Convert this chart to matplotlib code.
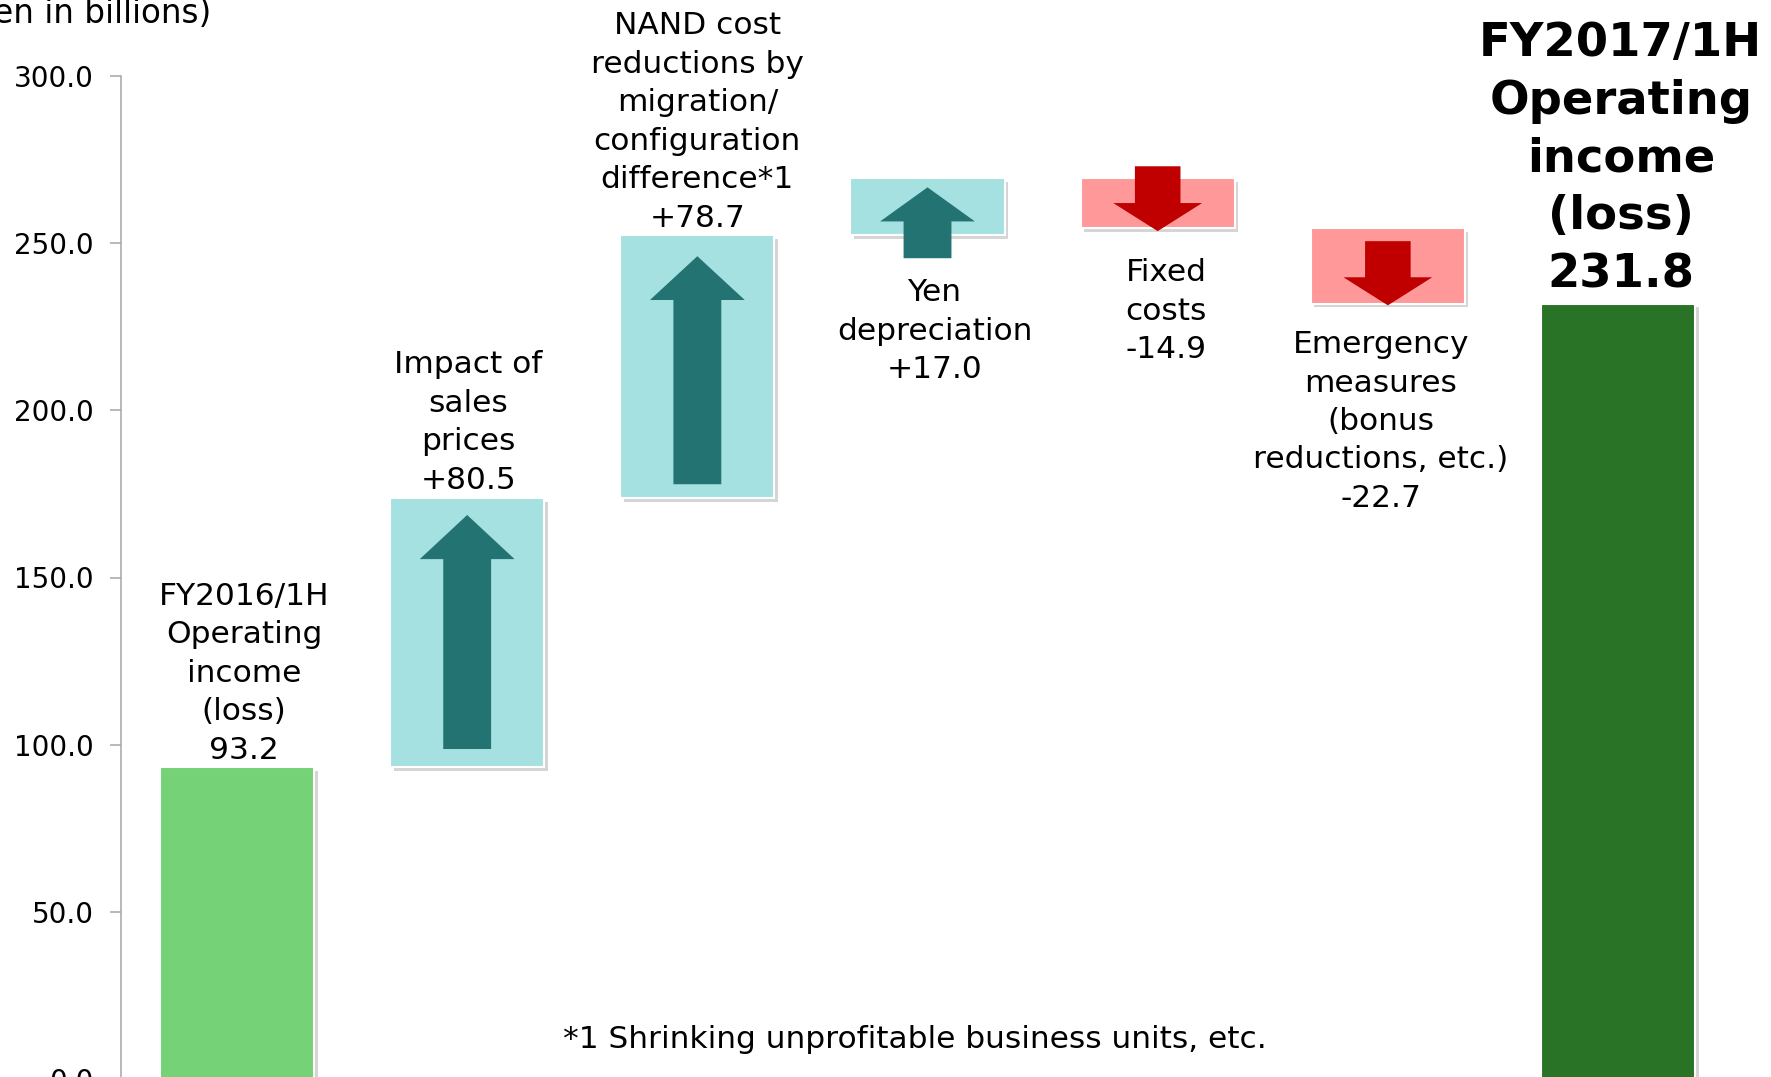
import matplotlib
matplotlib.use("Agg")
import matplotlib.pyplot as plt
import matplotlib.patheffects as pe
from matplotlib.patches import Polygon

# ---------------- data ----------------
categories = [
    "FY2016/1H\nOperating\nincome\n(loss)",
    "Impact of\nsales\nprices",
    "NAND cost\nreductions by\nmigration/\nconfiguration\ndifference*1",
    "Yen\ndepreciation",
    "Fixed\ncosts",
    "Emergency\nmeasures\n(bonus\nreductions, etc.)",
    "FY2017/1H\nOperating\nincome\n(loss)",
]
values = [93.2, 80.5, 78.7, 17.0, -14.9, -22.7, 231.8]
kinds = ["total", "delta", "delta", "delta", "delta", "delta", "total"]
yticks = [0, 50, 100, 150, 200, 250, 300]
unit_label = "(Yen in billions)"
footnote = "*1 Shrinking unprofitable business units, etc."

# ---------------- styling ----------------
COL_START = "#75D277"
COL_END = "#297327"
COL_UP_BAR = "#A5E1E0"
COL_UP_ARROW = "#247373"
COL_DN_BAR = "#FF9999"
COL_DN_ARROW = "#C00000"
FONT = "DejaVu Sans"
FS = 22.5
FS_BOLD = 33.5
LS = 1.41
LS_BOLD = 1.365

# arrow geometry (inset from start end, inset from target end, head length) in data units
arrow_geom = [None, (5.5, 5.0, 13.2), (4.2, 6.3, 13.1), (-6.9, 2.7, 10.2),
              (-3.6, -0.9, 8.4), (3.9, -0.4, 8.4), None]
# label placement: (above?, dx points, dy points)
label_place = [(True, 5, 2), (True, 1, 2.6), (True, 0, 1.9), (False, 5, -31),
               (False, 6, -21.7), (False, -5, -18.8), (True, 2, 5)]

# ---------------- waterfall geometry ----------------
bottoms, heights = [], []
running = 0.0
for v, k in zip(values, kinds):
    if k == "total":
        bottoms.append(0.0)
        heights.append(v)
        running = v
    else:
        bottoms.append(running if v > 0 else running + v)
        heights.append(abs(v))
        running += v

colors = []
for i, (v, k) in enumerate(zip(values, kinds)):
    if k == "total":
        colors.append(COL_START if i == 0 else COL_END)
    else:
        colors.append(COL_UP_BAR if v > 0 else COL_DN_BAR)

W, H = 1771, 1077
fig = plt.figure(figsize=(W / 100, H / 100), dpi=100)
fig.patch.set_facecolor("white")
ax = fig.add_axes([121 / W, (H - 1079) / H, (W - 121) / W, (1079 - 76) / H])

x = list(range(len(values)))
bar_w = 0.67
shadow = [pe.SimplePatchShadow(offset=(2.5, -2.5), shadow_rgbFace="#888888", alpha=0.35), pe.Normal()]
bars = ax.bar(x, heights, bottom=bottoms, width=bar_w, color=colors,
              edgecolor="white", linewidth=1.5, zorder=2)
for b in bars:
    b.set_path_effects(shadow)

# arrows inside delta bars
for i, g in enumerate(arrow_geom):
    if g is None:
        continue
    s_in, e_in, head = g
    v = values[i]
    lo, hi = bottoms[i], bottoms[i] + heights[i]
    if v > 0:
        y0, y1, d = lo + s_in, hi - e_in, 1
        col, hw, sw = COL_UP_ARROW, 0.206, 0.104
    else:
        y0, y1, d = hi - s_in, lo + e_in, -1
        col, hw, sw = COL_DN_ARROW, 0.193, 0.099
    yb = y1 - d * head
    c = x[i]
    pts = [(c - sw, y0), (c + sw, y0), (c + sw, yb), (c + hw, yb),
           (c, y1), (c - hw, yb), (c - sw, yb)]
    ax.add_patch(Polygon(pts, closed=True, facecolor=col, edgecolor="none", zorder=3))

# labels
for i, (cat, v, k) in enumerate(zip(categories, values, kinds)):
    above, dx, dy = label_place[i]
    val = f"{v:.1f}" if k == "total" else f"{v:+.1f}"
    txt = cat + "\n" + val
    bold = (i == len(values) - 1)
    yref = bottoms[i] + heights[i] if above else bottoms[i]
    ax.annotate(txt, xy=(x[i], yref), xytext=(dx, dy), textcoords="offset points",
                ha="center", va="bottom" if above else "top",
                fontsize=FS_BOLD if bold else FS, fontweight="bold" if bold else "normal",
                family=FONT, linespacing=LS_BOLD if bold else LS, color="black", zorder=5,
                annotation_clip=False)

ax.text(2.946, 9.3, footnote, ha="center", va="baseline", fontsize=FS, family=FONT)
fig.text(211 / W, (H - 23) / H, unit_label, ha="right", va="baseline", fontsize=23.5, family=FONT)

ax.set_xlim(-0.504, -0.504 + (W - 121) / 230.17)
ax.set_ylim(0, 300)
ax.set_yticks(yticks)
ax.set_yticklabels([f"{t:.1f}" for t in yticks], fontsize=20, family=FONT)
ax.tick_params(axis="y", length=8, width=1.1, color="#A6A6A6", pad=11.5)
ax.set_xticks([])
for s in ["top", "right", "bottom"]:
    ax.spines[s].set_visible(False)
ax.spines["left"].set_color("#A6A6A6")
ax.spines["left"].set_linewidth(1.1)
ax.patch.set_alpha(0)

fig.savefig("out.png", dpi=100)
